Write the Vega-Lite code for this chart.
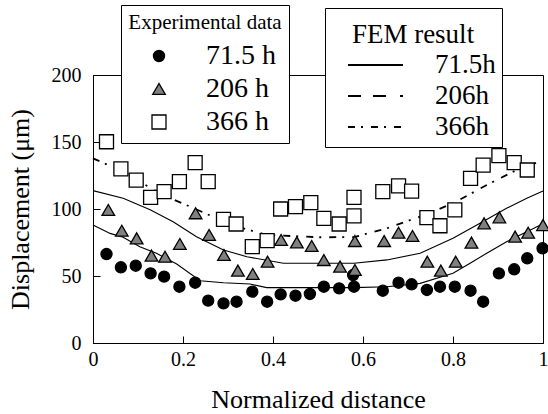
{
  "$schema": "https://vega.github.io/schema/vega-lite/v6.json",
  "width": 450,
  "height": 268,
  "autosize": {"type": "none"},
  "padding": {"left": 93, "top": 75, "right": 5, "bottom": 71},
  "background": "white",
  "datasets": {
    "pts": [
      {"x": 0.030, "y": 66.4, "series": "71.5 h"},
      {"x": 0.062, "y": 56.5, "series": "71.5 h"},
      {"x": 0.095, "y": 57.7, "series": "71.5 h"},
      {"x": 0.128, "y": 52.0, "series": "71.5 h"},
      {"x": 0.158, "y": 49.5, "series": "71.5 h"},
      {"x": 0.192, "y": 42.0, "series": "71.5 h"},
      {"x": 0.227, "y": 45.0, "series": "71.5 h"},
      {"x": 0.256, "y": 31.6, "series": "71.5 h"},
      {"x": 0.290, "y": 29.6, "series": "71.5 h"},
      {"x": 0.319, "y": 30.8, "series": "71.5 h"},
      {"x": 0.354, "y": 38.3, "series": "71.5 h"},
      {"x": 0.387, "y": 30.8, "series": "71.5 h"},
      {"x": 0.417, "y": 36.3, "series": "71.5 h"},
      {"x": 0.450, "y": 35.3, "series": "71.5 h"},
      {"x": 0.482, "y": 36.6, "series": "71.5 h"},
      {"x": 0.513, "y": 42.0, "series": "71.5 h"},
      {"x": 0.547, "y": 40.8, "series": "71.5 h"},
      {"x": 0.578, "y": 50.7, "series": "71.5 h"},
      {"x": 0.580, "y": 42.0, "series": "71.5 h"},
      {"x": 0.644, "y": 39.0, "series": "71.5 h"},
      {"x": 0.679, "y": 45.0, "series": "71.5 h"},
      {"x": 0.708, "y": 43.8, "series": "71.5 h"},
      {"x": 0.742, "y": 39.6, "series": "71.5 h"},
      {"x": 0.771, "y": 42.0, "series": "71.5 h"},
      {"x": 0.804, "y": 42.0, "series": "71.5 h"},
      {"x": 0.839, "y": 39.0, "series": "71.5 h"},
      {"x": 0.867, "y": 30.8, "series": "71.5 h"},
      {"x": 0.902, "y": 52.0, "series": "71.5 h"},
      {"x": 0.936, "y": 55.0, "series": "71.5 h"},
      {"x": 0.965, "y": 63.2, "series": "71.5 h"},
      {"x": 0.999, "y": 70.7, "series": "71.5 h"},
      {"x": 0.034, "y": 99.3, "series": "206 h"},
      {"x": 0.064, "y": 83.8, "series": "206 h"},
      {"x": 0.097, "y": 78.1, "series": "206 h"},
      {"x": 0.130, "y": 65.2, "series": "206 h"},
      {"x": 0.160, "y": 64.4, "series": "206 h"},
      {"x": 0.193, "y": 73.9, "series": "206 h"},
      {"x": 0.228, "y": 96.8, "series": "206 h"},
      {"x": 0.258, "y": 80.6, "series": "206 h"},
      {"x": 0.291, "y": 65.7, "series": "206 h"},
      {"x": 0.322, "y": 54.0, "series": "206 h"},
      {"x": 0.355, "y": 51.5, "series": "206 h"},
      {"x": 0.388, "y": 60.7, "series": "206 h"},
      {"x": 0.418, "y": 76.9, "series": "206 h"},
      {"x": 0.453, "y": 75.1, "series": "206 h"},
      {"x": 0.486, "y": 72.4, "series": "206 h"},
      {"x": 0.513, "y": 61.9, "series": "206 h"},
      {"x": 0.549, "y": 57.0, "series": "206 h"},
      {"x": 0.582, "y": 54.5, "series": "206 h"},
      {"x": 0.582, "y": 76.1, "series": "206 h"},
      {"x": 0.647, "y": 76.1, "series": "206 h"},
      {"x": 0.679, "y": 82.3, "series": "206 h"},
      {"x": 0.710, "y": 79.9, "series": "206 h"},
      {"x": 0.743, "y": 60.7, "series": "206 h"},
      {"x": 0.773, "y": 54.0, "series": "206 h"},
      {"x": 0.806, "y": 60.7, "series": "206 h"},
      {"x": 0.841, "y": 74.9, "series": "206 h"},
      {"x": 0.869, "y": 89.3, "series": "206 h"},
      {"x": 0.903, "y": 93.8, "series": "206 h"},
      {"x": 0.938, "y": 79.4, "series": "206 h"},
      {"x": 0.967, "y": 82.3, "series": "206 h"},
      {"x": 1.000, "y": 88.0, "series": "206 h"},
      {"x": 0.030, "y": 150.2, "series": "366 h"},
      {"x": 0.062, "y": 129.9, "series": "366 h"},
      {"x": 0.096, "y": 121.6, "series": "366 h"},
      {"x": 0.128, "y": 108.7, "series": "366 h"},
      {"x": 0.158, "y": 112.9, "series": "366 h"},
      {"x": 0.192, "y": 120.4, "series": "366 h"},
      {"x": 0.227, "y": 134.6, "series": "366 h"},
      {"x": 0.256, "y": 120.4, "series": "366 h"},
      {"x": 0.290, "y": 92.3, "series": "366 h"},
      {"x": 0.318, "y": 88.8, "series": "366 h"},
      {"x": 0.354, "y": 71.9, "series": "366 h"},
      {"x": 0.387, "y": 76.4, "series": "366 h"},
      {"x": 0.417, "y": 100.0, "series": "366 h"},
      {"x": 0.450, "y": 101.7, "series": "366 h"},
      {"x": 0.484, "y": 104.7, "series": "366 h"},
      {"x": 0.513, "y": 93.0, "series": "366 h"},
      {"x": 0.547, "y": 88.8, "series": "366 h"},
      {"x": 0.580, "y": 94.8, "series": "366 h"},
      {"x": 0.580, "y": 108.7, "series": "366 h"},
      {"x": 0.644, "y": 112.9, "series": "366 h"},
      {"x": 0.679, "y": 117.2, "series": "366 h"},
      {"x": 0.708, "y": 113.4, "series": "366 h"},
      {"x": 0.742, "y": 93.5, "series": "366 h"},
      {"x": 0.771, "y": 87.5, "series": "366 h"},
      {"x": 0.804, "y": 99.3, "series": "366 h"},
      {"x": 0.839, "y": 122.9, "series": "366 h"},
      {"x": 0.867, "y": 132.8, "series": "366 h"},
      {"x": 0.902, "y": 139.8, "series": "366 h"},
      {"x": 0.936, "y": 134.6, "series": "366 h"},
      {"x": 0.965, "y": 129.1, "series": "366 h"}
    ],
    "fem": [
      {"x": 0.000, "y": 88.0, "fem": "71.5h"},
      {"x": 0.038, "y": 81.8, "fem": "71.5h"},
      {"x": 0.067, "y": 78.9, "fem": "71.5h"},
      {"x": 0.104, "y": 71.9, "fem": "71.5h"},
      {"x": 0.141, "y": 66.9, "fem": "71.5h"},
      {"x": 0.186, "y": 59.0, "fem": "71.5h"},
      {"x": 0.238, "y": 46.5, "fem": "71.5h"},
      {"x": 0.290, "y": 45.0, "fem": "71.5h"},
      {"x": 0.349, "y": 44.0, "fem": "71.5h"},
      {"x": 0.386, "y": 41.3, "fem": "71.5h"},
      {"x": 0.504, "y": 41.3, "fem": "71.5h"},
      {"x": 0.580, "y": 41.3, "fem": "71.5h"},
      {"x": 0.653, "y": 42.0, "fem": "71.5h"},
      {"x": 0.727, "y": 44.5, "fem": "71.5h"},
      {"x": 0.800, "y": 52.0, "fem": "71.5h"},
      {"x": 0.838, "y": 59.5, "fem": "71.5h"},
      {"x": 0.875, "y": 67.0, "fem": "71.5h"},
      {"x": 0.919, "y": 75.6, "fem": "71.5h"},
      {"x": 0.964, "y": 83.0, "fem": "71.5h"},
      {"x": 1.000, "y": 89.0, "fem": "71.5h"},
      {"x": 0.000, "y": 113.7, "fem": "206h"},
      {"x": 0.067, "y": 108.0, "fem": "206h"},
      {"x": 0.127, "y": 99.4, "fem": "206h"},
      {"x": 0.178, "y": 90.5, "fem": "206h"},
      {"x": 0.230, "y": 79.3, "fem": "206h"},
      {"x": 0.290, "y": 69.4, "fem": "206h"},
      {"x": 0.342, "y": 64.4, "fem": "206h"},
      {"x": 0.423, "y": 59.5, "fem": "206h"},
      {"x": 0.504, "y": 59.5, "fem": "206h"},
      {"x": 0.580, "y": 59.5, "fem": "206h"},
      {"x": 0.653, "y": 62.0, "fem": "206h"},
      {"x": 0.727, "y": 67.0, "fem": "206h"},
      {"x": 0.800, "y": 78.1, "fem": "206h"},
      {"x": 0.860, "y": 89.3, "fem": "206h"},
      {"x": 0.919, "y": 100.5, "fem": "206h"},
      {"x": 0.964, "y": 108.0, "fem": "206h"},
      {"x": 1.000, "y": 113.4, "fem": "206h"},
      {"x": 0.000, "y": 137.8, "fem": "366h"},
      {"x": 0.060, "y": 129.0, "fem": "366h"},
      {"x": 0.104, "y": 120.4, "fem": "366h"},
      {"x": 0.156, "y": 110.4, "fem": "366h"},
      {"x": 0.216, "y": 101.7, "fem": "366h"},
      {"x": 0.275, "y": 93.0, "fem": "366h"},
      {"x": 0.334, "y": 85.6, "fem": "366h"},
      {"x": 0.386, "y": 80.6, "fem": "366h"},
      {"x": 0.504, "y": 78.9, "fem": "366h"},
      {"x": 0.580, "y": 79.0, "fem": "366h"},
      {"x": 0.653, "y": 85.6, "fem": "366h"},
      {"x": 0.727, "y": 94.3, "fem": "366h"},
      {"x": 0.800, "y": 104.2, "fem": "366h"},
      {"x": 0.875, "y": 117.9, "fem": "366h"},
      {"x": 0.934, "y": 127.9, "fem": "366h"},
      {"x": 0.986, "y": 134.6, "fem": "366h"}
    ]
  },
  "encoding": {
    "x": {
      "field": "x", "type": "quantitative",
      "scale": {"domain": [0, 1], "nice": false, "zero": false},
      "axis": {
        "title": "Normalized distance",
        "values": [0, 0.2, 0.4, 0.6, 0.8, 1],
        "format": "~g",
        "labelFlush": false,
        "tickSize": -7,
        "labelPadding": 13,
        "titlePadding": 17,
        "labelFont": "Liberation Serif",
        "titleFont": "Liberation Serif"
      }
    },
    "y": {
      "field": "y", "type": "quantitative",
      "scale": {"domain": [0, 200], "nice": false},
      "axis": {
        "title": "Displacement (μm)",
        "values": [0, 50, 100, 150, 200],
        "tickSize": -7,
        "labelPadding": 19,
        "titlePadding": 18,
        "labelFont": "Liberation Serif",
        "titleFont": "Liberation Serif"
      }
    }
  },
  "layer": [
    {
      "data": {"name": "fem"},
      "transform": [{"filter": "datum.fem === '71.5h'"}],
      "mark": {"type": "line", "stroke": "black", "strokeWidth": 1.1}
    },
    {
      "data": {"name": "fem"},
      "transform": [{"filter": "datum.fem === '206h'"}],
      "mark": {"type": "line", "stroke": "black", "strokeWidth": 1.1}
    },
    {
      "data": {"name": "fem"},
      "transform": [{"filter": "datum.fem === '366h'"}],
      "mark": {"type": "line", "stroke": "black", "strokeWidth": 1.8},
      "encoding": {
        "strokeDash": {
          "field": "fem", "type": "nominal",
          "scale": {
            "domain": ["71.5h", "206h", "366h"],
            "range": [[1, 0], [13, 12, 13, 14, 3, 12], [7, 6, 2, 8]]
          },
          "legend": {
            "title": "FEM result",
            "orient": "none",
            "legendX": 232,
            "legendY": -67,
            "padding": 6,
            "strokeColor": "black",
            "fillColor": "white",
            "titleFont": "Liberation Serif",
            "titleFontSize": 27,
            "titleFontWeight": "normal",
            "titleAnchor": "middle",
            "titleBaseline": "line-top",
            "titleLineHeight": 43,
            "titlePadding": 10,
            "labelFont": "Liberation Serif",
            "labelFontSize": 27,
            "labelOffset": 31,
            "labelExpr": "datum.label + '\u00a0\u00a0\u00a0\u00a0\u00a0'",
            "symbolType": "stroke",
            "symbolSize": 3025,
            "symbolStrokeWidth": 2,
            "symbolStrokeColor": "black",
            "symbolOffset": 16,
            "clipHeight": 28,
            "rowPadding": 3
          }
        }
      }
    },
    {
      "data": {"name": "pts"},
      "mark": {"type": "point", "filled": true, "stroke": "black", "strokeWidth": 1.3, "opacity": 1},
      "encoding": {
        "shape": {
          "field": "series", "type": "nominal",
          "scale": {"domain": ["71.5 h", "206 h", "366 h"], "range": ["circle", "triangle-up", "square"]},
          "legend": {
            "title": "Experimental data",
            "orient": "none",
            "legendX": 28,
            "legendY": -70,
            "padding": 7,
            "strokeColor": "black",
            "fillColor": "white",
            "titleFont": "Liberation Serif",
            "titleFontSize": 21,
            "titleFontWeight": "normal",
            "titleAnchor": "middle",
            "titlePadding": 9,
            "labelFont": "Liberation Serif",
            "labelFontSize": 28,
            "labelOffset": 33,
            "labelExpr": "datum.label + '\u00a0\u00a0\u00a0\u00a0\u00a0\u00a0\u00a0\u00a0\u00a0'",
            "symbolOffset": 11,
            "symbolStrokeColor": "black",
            "symbolStrokeWidth": 1.3,
            "rowPadding": 5
          }
        },
        "fill": {
          "field": "series", "type": "nominal",
          "scale": {"domain": ["71.5 h", "206 h", "366 h"], "range": ["black", "#808080", "white"]}
        },
        "size": {
          "field": "series", "type": "nominal",
          "scale": {"domain": ["71.5 h", "206 h", "366 h"], "range": [123, 196, 121]}
        }
      }
    }
  ],
  "config": {
    "font": "Liberation Serif",
    "view": {"stroke": "black", "strokeWidth": 1},
    "text": {"font": "Liberation Serif"},
    "axis": {
      "grid": false,
      "domainColor": "black",
      "tickColor": "black",
      "labelColor": "black",
      "titleColor": "black",
      "labelFont": "Liberation Serif",
      "titleFont": "Liberation Serif",
      "labelFontSize": 20,
      "titleFontSize": 26,
      "titleFontWeight": "normal"
    },
    "legend": {
      "labelFont": "Liberation Serif",
      "titleFont": "Liberation Serif",
      "labelColor": "black",
      "titleColor": "black"
    }
  }
}
